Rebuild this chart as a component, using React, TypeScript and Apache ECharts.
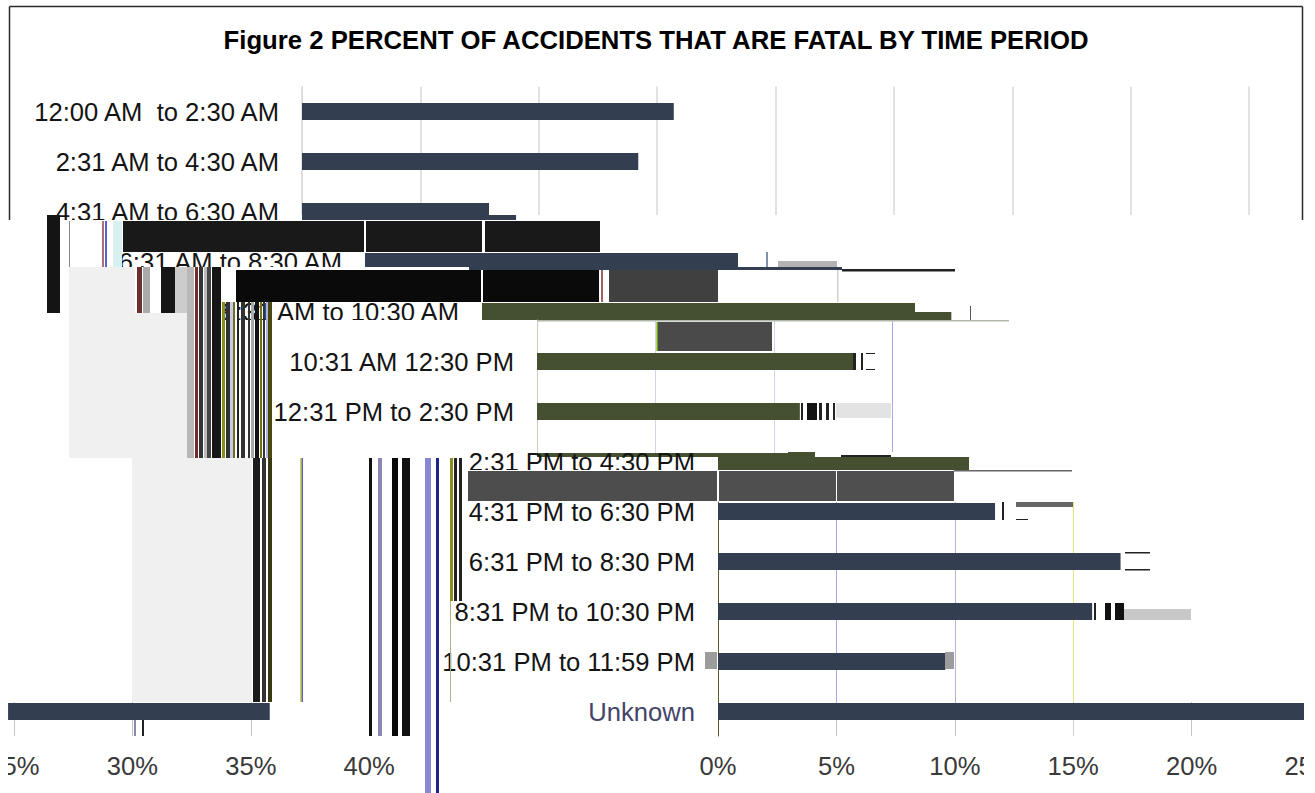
import React, { useEffect, useRef } from "react";
import * as echarts from "echarts";

const chartTitle = "Figure 2 PERCENT OF ACCIDENTS THAT ARE FATAL BY TIME PERIOD";

const timePeriods = [
  "12:00 AM  to 2:30 AM",
  "2:31 AM to 4:30 AM",
  "4:31 AM to 6:30 AM",
  "6:31 AM to 8:30 AM",
  "8:31 AM to 10:30 AM",
  "10:31 AM 12:30 PM",
  "12:31 PM to 2:30 PM",
  "2:31 PM to 4:30 PM",
  "4:31 PM to 6:30 PM",
  "6:31 PM to 8:30 PM",
  "8:31 PM to 10:30 PM",
  "10:31 PM to 11:59 PM",
  "Unknown",
];

const fatalPercent = [15.7, 14.2, 7.9, 15.75, 18.3, 13.4, 11.1, 10.6, 11.7, 17.0, 15.8, 9.6, 35.8];

const NAVY = "#333f50";
const OLIVE = "#44502f";
const PX_PER_PERCENT = 23.68;
const ROW_BAND = 50;
const PLOT_TOP = 86.5;
const PLOT_ROWS = 13;
const WRAP = 1296;

type Rule = { to: number; min?: number; max: number; colors: string[]; axis?: string; ticks?: boolean };
type Strip = {
  y: number; x0: number; rows?: number[]; labelRows?: number[]; color?: string;
  barStart?: number; rule?: Rule; sameCover?: boolean;
};

// Horizontal strips of the plot, painted top to bottom; each one wipes what lies beneath it.
const strips: Strip[] = [
  { y: 0, x0: 302, rows: [0, 1, 2], labelRows: [0, 1, 2], color: NAVY, rule: { to: 215, max: 40, colors: ["#d9d9d9"], axis: "#d9d9d9" } },
  { y: 215, x0: 329, rows: [2], color: NAVY, sameCover: true },
  { y: 220, x0: 0 },
  { y: 252, x0: 365, rows: [3], labelRows: [3], color: NAVY },
  { y: 267, x0: 469, rows: [3], color: NAVY },
  { y: 270, x0: 0 },
  { y: 302, x0: 482, rows: [4], labelRows: [4], color: OLIVE },
  { y: 312, x0: 518, rows: [4], color: OLIVE, sameCover: true },
  { y: 320, x0: 537, rows: [5, 6, 7], labelRows: [5, 6], color: OLIVE, rule: { to: 458, max: 15, colors: ["#c9d0b4", "#d4d4ee", "#d4d4ee", "#a8a8e8"], axis: "#c9d0b4" } },
  { y: 457, x0: 718, rows: [7], labelRows: [7], color: OLIVE },
  { y: 470, x0: 0 },
  { y: 502, x0: 718, rows: [8, 9, 10, 11, 12], labelRows: [8, 9, 10, 11, 12], color: NAVY, rule: { to: 702, max: 15, colors: ["#5e5a30", "#a9a9e6", "#b4b4d8", "#ece27a"], axis: "#5e5a30" } },
  { y: 702, x0: 718, rows: [12], labelRows: [12], color: NAVY, rule: { to: 736, max: 25, colors: ["#5e5a30", "#c4c4c4", "#c4c4c4", "#cfcfdc", "#c4c4c4", "#c4c4c4"], axis: "#5e5a30", ticks: true } },
  { y: 702, x0: 718 - WRAP, rows: [12], barStart: 24.75, color: NAVY, sameCover: true, rule: { to: 736, min: 25, max: 40, colors: ["#c4c4c4"], ticks: true } },
];

type Block = [number, number, number, number, string];

// Solid blocks and vertical streaks laid over the strips.
const blocks: Block[] = [
  [489, 203, 28, 12, "#ffffff"],
  [738, 252, 110, 15, "#ffffff"],
  [915, 302, 40, 10, "#ffffff"],
  [815, 452, 160, 5, "#ffffff"],
  [69, 267, 66, 46, "#f0f0f0"],
  [69, 313, 118, 145, "#f0f0f0"],
  [132, 458, 120, 244, "#f0f0f0"],
  [47, 215, 13, 98, "#141414"],
  [123, 221, 241, 31, "#191919"],
  [366, 221, 116, 31, "#191919"],
  [485, 221, 115, 31, "#191919"],
  [69, 221, 1, 46, "#888888"],
  [102, 221, 2, 46, "#b07070"],
  [105, 221, 2, 46, "#5560d0"],
  [113, 221, 9, 46, "#d8f0f0"],
  [778, 261, 59, 6, "#b3b3b3"],
  [766, 252, 2, 15, "#7f8fb0"],
  [842, 269, 113, 2.5, "#222222"],
  [236, 270, 245, 32, "#0a0a0a"],
  [483, 270, 116, 32, "#0a0a0a"],
  [609, 270, 109, 32, "#404040"],
  [601, 270, 2, 32, "#a06060"],
  [837, 270, 1.5, 32, "#d0d0d0"],
  [137, 267, 5, 46, "#6a3030"],
  [143, 267, 7, 46, "#aaaaaa"],
  [161, 267, 14, 46, "#161616"],
  [175, 267, 12, 46, "#cccccc"],
  [187, 267, 7, 191, "#b8b8b8"],
  [195, 267, 3, 191, "#7a2a2a"],
  [199, 267, 4, 191, "#333333"],
  [204, 267, 3, 191, "#bbbbbb"],
  [207, 267, 4, 191, "#444444"],
  [212, 267, 9, 191, "#161616"],
  [222, 302, 3, 156, "#8c8c20"],
  [226, 302, 4, 156, "#333333"],
  [230, 302, 3, 156, "#c8c8e8"],
  [233, 302, 2, 156, "#70701a"],
  [237, 302, 2, 156, "#222222"],
  [241, 302, 4, 156, "#333333"],
  [248, 302, 2, 156, "#333333"],
  [251, 302, 3, 156, "#aaaaaa"],
  [255, 302, 4, 156, "#111111"],
  [260, 302, 2, 156, "#70701a"],
  [263, 302, 2, 156, "#333333"],
  [266, 302, 2, 156, "#b0b0e8"],
  [268, 302, 4, 156, "#4a4a10"],
  [537, 320, 472, 1.5, "#b0b8a8"],
  [970, 306, 1, 14, "#555555"],
  [657, 322, 115, 29, "#4a4a4a"],
  [656, 322, 1.5, 29, "#a8e040"],
  [853, 353, 3, 17, "#222222"],
  [861, 353, 2, 17, "#222222"],
  [866, 353, 9, 1, "#222222"],
  [866, 369, 9, 1, "#222222"],
  [801, 403, 2, 17, "#222222"],
  [807, 403, 10, 17, "#141414"],
  [819, 403, 3, 17, "#222222"],
  [826, 403, 3, 17, "#222222"],
  [833, 403, 2, 17, "#222222"],
  [836, 403, 55, 15, "#e3e3e3"],
  [788, 452, 27, 5, OLIVE],
  [841, 455, 50, 2, "#222222"],
  [253, 458, 7, 244, "#1c1c1c"],
  [262, 458, 4, 244, "#333333"],
  [268, 458, 4, 244, "#3a3a10"],
  [300, 458, 1.5, 244, "#d8d820"],
  [301.5, 458, 1.5, 244, "#5a5ad0"],
  [369, 458, 3, 278, "#111111"],
  [378, 458, 4, 278, "#8888b0"],
  [392, 458, 6, 278, "#0a0a0a"],
  [402, 458, 8, 278, "#111111"],
  [425, 458, 6, 335, "#8888d0"],
  [436, 458, 3, 335, "#22228a"],
  [450, 458, 3, 143, "#8c8c20"],
  [454, 458, 3, 143, "#222222"],
  [459, 458, 3, 143, "#222222"],
  [450, 601, 1, 101, "#b0b090"],
  [134, 720, 2, 16, "#8888b0"],
  [142, 720, 2, 16, "#222222"],
  [954, 470, 118, 1.5, "#666666"],
  [468, 471, 249, 30, "#4d4d4d"],
  [719, 471, 117, 30, "#4f4f4f"],
  [837, 471, 117, 30, "#4f4f4f"],
  [1002, 502, 2, 18, "#222222"],
  [1016, 502, 57, 5, "#666666"],
  [1016, 519, 12, 1, "#222222"],
  [1125, 552, 25, 1.5, "#222222"],
  [1125, 569, 25, 1.5, "#222222"],
  [1094, 603, 2, 17, "#222222"],
  [1105, 603, 6, 17, "#111111"],
  [1115, 603, 9, 17, "#111111"],
  [1124, 609, 67, 11, "#c8c8c8"],
  [705, 652, 12, 17, "#9c9c9c"],
  [945, 652, 9, 17, "#9c9c9c"],
];

function buildOption() {
  const grid: any[] = [];
  const xAxis: any[] = [];
  const yAxis: any[] = [];
  const series: any[] = [];
  const graphic: any[] = [];

  strips.forEach((strip, i) => {
    const base = (i + 1) * 10;
    if (!strip.sameCover) {
      graphic.push({
        type: "rect", silent: true, z: base,
        shape: { x: 0, y: strip.y, width: 1315, height: 793 - strip.y },
        style: { fill: "#ffffff" },
      });
    }
    const rule = strip.rule;
    if (rule) {
      const idx = grid.length;
      const top = Math.max(strip.y, PLOT_TOP);
      const start = rule.min ?? 0;
      grid.push({
        outerBoundsMode: "none",
        left: strip.x0 + start * PX_PER_PERCENT,
        width: (rule.max - start) * PX_PER_PERCENT,
        top, height: rule.to - top,
      });
      xAxis.push({
        type: "value", gridIndex: idx, min: start, max: rule.max, interval: 5, z: base + 1,
        axisLine: { show: false }, axisTick: { show: false },
        splitLine: { show: true, lineStyle: { color: rule.colors, width: i === 0 ? 1.5 : 1 } },
        axisLabel: rule.ticks
          ? {
              show: true, margin: 17, fontFamily: "Liberation Sans", fontSize: 25.6, color: "#3a3a3a",
              hideOverlap: false, showMinLabel: true, showMaxLabel: true,
              formatter: (v: number) => `${v}%`,
            }
          : { show: false },
      });
      yAxis.push({
        type: "value", gridIndex: idx, min: 0, max: 1, z: base + 1,
        axisLine: { show: !!rule.axis, lineStyle: { color: rule.axis, width: 1 } },
        axisTick: { show: false }, axisLabel: { show: false }, splitLine: { show: false },
      });
    }
    const rows = strip.rows;
    if (rows) {
      const idx = grid.length;
      const labelRows = strip.labelRows ?? [];
      const start = strip.barStart ?? 0;
      const left = strip.x0 + start * PX_PER_PERCENT;
      // A grid has to stay inside the canvas, so the axis window ends at the right edge.
      const width = 1315 - left;
      grid.push({ outerBoundsMode: "none", left, width, top: PLOT_TOP, height: PLOT_ROWS * ROW_BAND });
      xAxis.push({
        type: "value", gridIndex: idx, min: start, max: start + width / PX_PER_PERCENT,
        show: false, splitLine: { show: false },
      });
      yAxis.push({
        type: "category", gridIndex: idx, inverse: true, data: timePeriods, z: base + 2,
        axisLine: { show: false }, axisTick: { show: false }, splitLine: { show: false },
        axisLabel: {
          show: labelRows.length > 0, interval: 0, margin: 23, hideOverlap: false,
          fontFamily: "Liberation Sans", fontSize: 25.6, padding: [0, 0, 2, 0],
          color: (v: string) => (v === "Unknown" ? "#44446a" : "#141414"),
          formatter: (v: string, n: number) => (labelRows.includes(n) ? v : ""),
        },
      });
      series.push({
        type: "bar", xAxisIndex: idx, yAxisIndex: idx, barWidth: 17, z: base + 3,
        itemStyle: { color: strip.color },
        data: fatalPercent.map((v, n) => (rows.includes(n) ? v : null)),
      });
    }
  });

  blocks.forEach(([x, y, width, height, fill]) => {
    graphic.push({ type: "rect", silent: true, z: 1000, shape: { x, y, width, height }, style: { fill } });
  });

  // Outer frame of the chart, and the white margins either side of the page.
  [[9.5, 6.5, 1302.5, 6.5], [9.5, 6.5, 9.5, 220], [1302.5, 6.5, 1302.5, 220]].forEach(([x1, y1, x2, y2]) => {
    graphic.push({ type: "line", silent: true, z: 1001, shape: { x1, y1, x2, y2 }, style: { stroke: "#2a2a2a", lineWidth: 1.5 } });
  });
  graphic.push({ type: "rect", silent: true, z: 1002, shape: { x: 0, y: 0, width: 8, height: 793 }, style: { fill: "#ffffff" } });
  graphic.push({ type: "rect", silent: true, z: 1002, shape: { x: 1304, y: 0, width: 11, height: 793 }, style: { fill: "#ffffff" } });

  return {
    animation: false,
    backgroundColor: "#ffffff",
    title: {
      text: chartTitle, left: 651, top: 22, textAlign: "center", z: 1003,
      textStyle: { fontFamily: "Liberation Sans", fontWeight: "bold", fontSize: 25.7, color: "#000000" },
    },
    grid, xAxis, yAxis, series,
    graphic: { elements: graphic },
  };
}

export default function App() {
  const ref = useRef<HTMLDivElement>(null);
  useEffect(() => {
    const chart = echarts.init(ref.current!, undefined, { renderer: "svg" });
    chart.setOption(buildOption());
    return () => chart.dispose();
  }, []);
  return <div ref={ref} style={{ position: "absolute", left: 0, top: 0, width: 1315, height: 793 }} />;
}
